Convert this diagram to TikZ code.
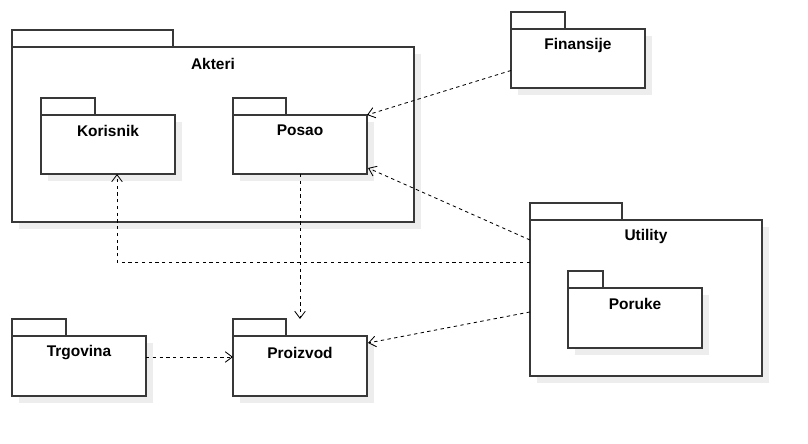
\documentclass[tikz,border=0pt]{standalone}
\usepackage{fontspec}
\setmainfont{Liberation Sans}
\usetikzlibrary{arrows.meta,calc}

\begin{document}
\begin{tikzpicture}[
  x=0.025cm, y=-0.025cm,
  pkg/.style={rectangle, draw=black!78, fill=white, line width=0.8pt, inner sep=0pt, outer sep=0pt,
    preaction={fill=black!7, draw=none, transform canvas={shift={(0.18cm,-0.18cm)}}}},
  tab/.style={draw=black!78, fill=white, line width=0.8pt},
  pkgtext/.style={font=\bfseries\fontsize{11}{13}\selectfont, anchor=center, yshift=-0.42cm},
  dep/.style={draw=black, line width=0.6pt, dash pattern=on 2.4pt off 2.4pt,
    -{Straight Barb[length=5pt, width=7.5pt]}},
]
\useasboundingbox (0,0) rectangle (808,444);

% === PACKAGES ===
\node[pkg, minimum width=10.05cm, minimum height=4.375cm, label={[pkgtext]north:Akteri}] (akt) at (213, 134.5) {};
\node[pkg, minimum width=3.35cm, minimum height=1.475cm, label={[pkgtext, yshift=0.03cm]north:Korisnik}] (kor) at (108, 144.5) {};
\node[pkg, minimum width=3.35cm, minimum height=1.475cm, label={[pkgtext, yshift=0.03cm]north:Posao}] (pos) at (300, 144.5) {};

\node[pkg, minimum width=3.35cm, minimum height=1.475cm, label={[pkgtext]north:Finansije}] (fin) at (578, 58.5) {};

\node[pkg, minimum width=5.8cm, minimum height=3.9cm, label={[pkgtext]north:Utility}] (utl) at (646, 298) {};
\node[pkg, minimum width=3.35cm, minimum height=1.5cm, label={[pkgtext, yshift=0.03cm]north:Poruke}] (por) at (635, 318) {};

\node[pkg, minimum width=3.35cm, minimum height=1.5cm, label={[pkgtext]north:Trgovina}] (trg) at (79, 366) {};
\node[pkg, minimum width=3.35cm, minimum height=1.5cm, label={[pkgtext]north:Proizvod}] (prz) at (300, 366) {};

% package tabs
\foreach \p/\w in {akt/161, kor/54, pos/53, fin/54, utl/92, por/35, trg/54, prz/53}
  \draw[tab] (\p.north west) rectangle ++(\w,-17);

% === DEPENDENCIES ===
\draw[dep] ($(fin.west)+(0,12)$) -- (pos.north east);
\draw[dep] ($(utl.north west)+(0,20)$) -- ($(pos.south east)+(1,-6)$);
\draw[dep] ($(utl.north west)+(0,42)$) -| ($(kor.south)+(9,0)$);
\draw[dep] (pos.south) -- ($(prz.north)+(0,-17)$);
\draw[dep] ($(utl.north west)+(0,92)$) -- ($(prz.north east)+(1,7)$);
\draw[dep] ($(trg.east)+(0,-9)$) -- ($(prz.west)+(0,-9)$);
\end{tikzpicture}
\end{document}
